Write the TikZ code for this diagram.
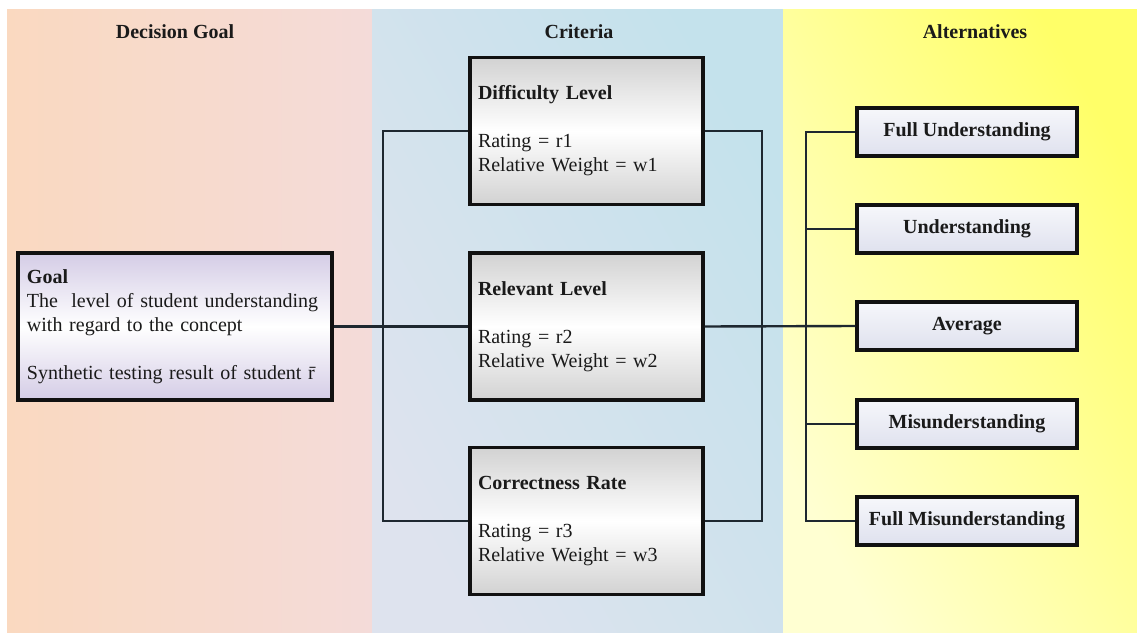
\documentclass[tikz,border=0pt]{standalone}
\usepackage{fontspec}
\setmainfont{Liberation Serif}
\definecolor{txt}{HTML}{1A1A1A}
\definecolor{lpA}{HTML}{FAD9C0}
\definecolor{lpB}{HTML}{F4DBD9}
\definecolor{mpA}{HTML}{DEE3EE}
\definecolor{mpB}{HTML}{C4E2EC}
\definecolor{rpA}{HTML}{FFFFD2}
\definecolor{rpB}{HTML}{FFFF68}
\definecolor{critG}{HTML}{D2D2D2}
\definecolor{goalG}{HTML}{D4CCE6}
\definecolor{altT}{HTML}{F6F7FB}
\definecolor{altB}{HTML}{DFE1EE}
\definecolor{edge}{HTML}{111111}
\definecolor{conn}{HTML}{1E2830}
\tikzset{
  basefont/.style={font=\fontsize{20}{24}\selectfont, text=txt},
  hdr/.style={basefont, font=\fontsize{20}{24}\selectfont\bfseries, anchor=base},
  boxbase/.style={draw=edge, line width=3.4pt, rectangle, basefont},
  goalbox/.style={boxbase, top color=goalG, bottom color=goalG, middle color=white,
    minimum width=314pt, minimum height=147pt, text width=296pt, align=left, inner xsep=9pt},
  critbox/.style={boxbase, top color=critG, bottom color=critG, middle color=white,
    minimum width=233pt, minimum height=147pt, text width=217pt, align=left, inner xsep=8pt},
  altbox/.style={boxbase, top color=altT, bottom color=altB,
    minimum width=220pt, minimum height=48pt, font=\fontsize{20}{24}\selectfont\bfseries},
  link/.style={draw=conn, line width=2.4pt},
}
\begin{document}
\begin{tikzpicture}[x=1pt,y=-1pt]
\useasboundingbox (0,0) rectangle (1137,634);
% panels
\fill[left color=lpA, right color=lpB] (7,10) rectangle (372,632);
\fill[shading=axis, left color=mpA, right color=mpB, shading angle=120] (372,10) rectangle (783,632);
\fill[shading=axis, left color=rpA, right color=rpB, shading angle=120] (783,10) rectangle (1137,632);
% headers
\node[hdr] (hgoal) at (175,38) {Decision Goal};
\node[hdr] (hcrit) at (579,38) {Criteria};
\node[hdr] (halt) at (975,38) {Alternatives};
% connectors
\coordinate (lb) at (383,0);
\coordinate (rb) at (762,0);
\coordinate (sp) at (806,0);
% goal
\node[goalbox] (goal) at (175,326.5) {\textbf{Goal}\\The~ level of student understanding\\with regard to the concept\\[24pt]Synthetic testing result of student \={r}};
% criteria
\node[critbox] (diff) at (586.5,131) {\textbf{Difficulty Level}\\[24pt]Rating = r1\\Relative Weight = w1};
\node[critbox] (rel) at (586.5,326.5) {\textbf{Relevant Level}\\[24pt]Rating = r2\\Relative Weight = w2};
\node[critbox] (corr) at (586.5,521) {\textbf{Correctness Rate}\\[24pt]Rating = r3\\Relative Weight = w3};
% alternatives
\node[altbox] (fu) at (967,132) {Full Understanding};
\node[altbox] (u) at (967,229) {Understanding};
\node[altbox] (avg) at (967,326) {Average};
\node[altbox] (mis) at (967,424) {Misunderstanding};
\node[altbox] (fm) at (967,521) {Full Misunderstanding};
\draw[link] (goal.east) -- (rel.west);
\draw[link] (diff.west) -- (diff.west -| lb) -- (corr.west -| lb) -- (corr.west);
\draw[link] (diff.east) -- (diff.east -| rb) -- (corr.east -| rb) -- (corr.east);
\draw[link] (rel.east) -- (avg.west);
\draw[link] (fu.west) -- (fu.west -| sp) -- (fm.west -| sp) -- (fm.west);
\draw[link] (u.west) -- (u.west -| sp);
\draw[link] (mis.west) -- (mis.west -| sp);
\end{tikzpicture}
\end{document}
